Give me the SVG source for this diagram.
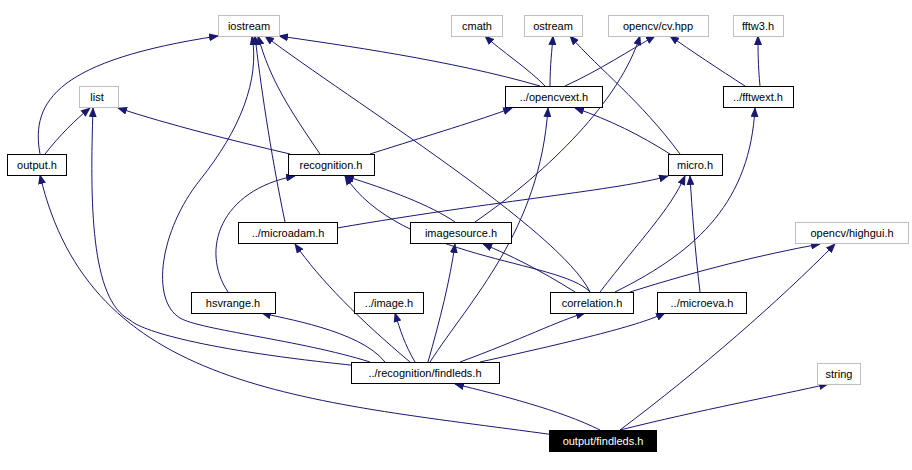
<svg xmlns="http://www.w3.org/2000/svg" width="912" height="470" viewBox="0 0 912 470">
<style>
.n rect{fill:#fff;stroke:#000;stroke-width:1}
.g rect{stroke:#bfbfbf}
text{font-family:"Liberation Sans",Arial,sans-serif;font-size:11px;text-anchor:middle;fill:#000}
#edges path{fill:none;stroke:#191970;stroke-width:1;marker-end:url(#a)}
</style>
<defs><marker id="a" markerWidth="10" markerHeight="8" refX="9" refY="4" orient="auto" markerUnits="userSpaceOnUse"><path d="M0,0L10,4L0,8z" fill="#191970"/></marker></defs>
<rect width="912" height="470" fill="#fff"/>
<g id="edges">
<path d="M600,430C560,410 500,395 455,384"/>
<path d="M620,430C700,410 780,395 828,384"/>
<path d="M620,430C700,370 780,300 835,244"/>
<path d="M555,435C300,400 90,390 40,175"/>
<path d="M385,362C360,330 280,318 262,313"/>
<path d="M415,362C405,345 400,330 395,313"/>
<path d="M428,362C440,320 450,280 455,244"/>
<path d="M410,362C360,320 320,280 295,244"/>
<path d="M460,362C520,340 560,320 585,313"/>
<path d="M480,362C580,340 640,325 665,313"/>
<path d="M360,366C200,350 140,330 130,320C90,300 90,200 93,108"/>
<path d="M370,362C300,340 200,330 180,318C150,300 160,230 200,180C240,130 260,80 252,36"/>
<path d="M430,362C470,300 540,230 548,108"/>
<path d="M590,292C560,260 400,260 345,176"/>
<path d="M575,292C540,270 510,255 483,244"/>
<path d="M600,292C640,240 670,210 685,176"/>
<path d="M615,292C700,250 750,200 755,108"/>
<path d="M630,292C700,270 760,255 820,244"/>
<path d="M590,292C560,230 350,100 265,36"/>
<path d="M700,292C695,250 692,210 690,176"/>
<path d="M228,292C200,250 220,190 295,176"/>
<path d="M455,222C430,205 390,190 345,176"/>
<path d="M475,222C550,170 620,100 640,36"/>
<path d="M285,222C270,150 260,80 255,36"/>
<path d="M337,228C500,200 620,190 668,176"/>
<path d="M670,154C640,135 610,120 575,108"/>
<path d="M680,154C640,100 600,70 570,36"/>
<path d="M320,154C290,110 270,80 258,36"/>
<path d="M290,154C230,140 170,125 118,108"/>
<path d="M370,154C430,135 480,120 512,108"/>
<path d="M540,86C450,60 340,45 279,36"/>
<path d="M545,86C530,70 500,50 485,36"/>
<path d="M550,86C550,65 552,50 553,36"/>
<path d="M565,86C600,70 630,50 655,36"/>
<path d="M760,86C758,65 758,50 758,36"/>
<path d="M745,86C720,70 690,50 670,36"/>
<path d="M40,154C30,100 60,60 218,36"/>
<path d="M45,154C60,135 75,120 90,108"/>
</g>
<g id="iostream" class="n g"><rect x="218.5" y="15.5" width="61" height="21"/><text x="249" y="30">iostream</text></g>
<g id="cmath" class="n g"><rect x="451.5" y="15.5" width="51" height="21"/><text x="477" y="30">cmath</text></g>
<g id="ostream" class="n g"><rect x="524.5" y="15.5" width="58" height="21"/><text x="553" y="30">ostream</text></g>
<g id="cvhpp" class="n g"><rect x="608.5" y="15.5" width="100" height="21"/><text x="658" y="30">opencv/cv.hpp</text></g>
<g id="fftw3" class="n g"><rect x="733.5" y="15.5" width="50" height="21"/><text x="758" y="30">fftw3.h</text></g>
<g id="list" class="n g"><rect x="79.5" y="86.5" width="39" height="21"/><text x="97" y="101">list</text></g>
<g id="opencvext" class="n"><rect x="505.5" y="86.5" width="97" height="21"/><text x="554" y="101">../opencvext.h</text></g>
<g id="fftwext" class="n"><rect x="723.5" y="86.5" width="70" height="21"/><text x="758" y="101">../fftwext.h</text></g>
<g id="output" class="n"><rect x="7.5" y="154.5" width="59" height="21"/><text x="37" y="169">output.h</text></g>
<g id="recognition" class="n"><rect x="288.5" y="154.5" width="86" height="21"/><text x="331" y="169">recognition.h</text></g>
<g id="micro" class="n"><rect x="668.5" y="154.5" width="54" height="21"/><text x="695" y="169">micro.h</text></g>
<g id="microadam" class="n"><rect x="238.5" y="222.5" width="99" height="21"/><text x="288" y="237">../microadam.h</text></g>
<g id="imagesource" class="n"><rect x="410.5" y="222.5" width="101" height="21"/><text x="461" y="237">imagesource.h</text></g>
<g id="highgui" class="n g"><rect x="795.5" y="222.5" width="113" height="21"/><text x="852" y="237">opencv/highgui.h</text></g>
<g id="hsvrange" class="n"><rect x="191.5" y="292.5" width="84" height="21"/><text x="233" y="307">hsvrange.h</text></g>
<g id="image" class="n"><rect x="354.5" y="292.5" width="69" height="21"/><text x="389" y="307">../image.h</text></g>
<g id="correlation" class="n"><rect x="550.5" y="292.5" width="83" height="21"/><text x="592" y="307">correlation.h</text></g>
<g id="microeva" class="n"><rect x="657.5" y="292.5" width="89" height="21"/><text x="702" y="307">../microeva.h</text></g>
<g id="recfindleds" class="n"><rect x="351.5" y="362.5" width="148" height="21"/><text x="425" y="377">../recognition/findleds.h</text></g>
<g id="string" class="n g"><rect x="817.5" y="363.5" width="43" height="21"/><text x="839" y="378">string</text></g>
<g id="outfindleds"><rect x="549" y="430" width="108" height="22" fill="#000"/><text x="603" y="445" style="fill:#fff">output/findleds.h</text></g>
</svg>
